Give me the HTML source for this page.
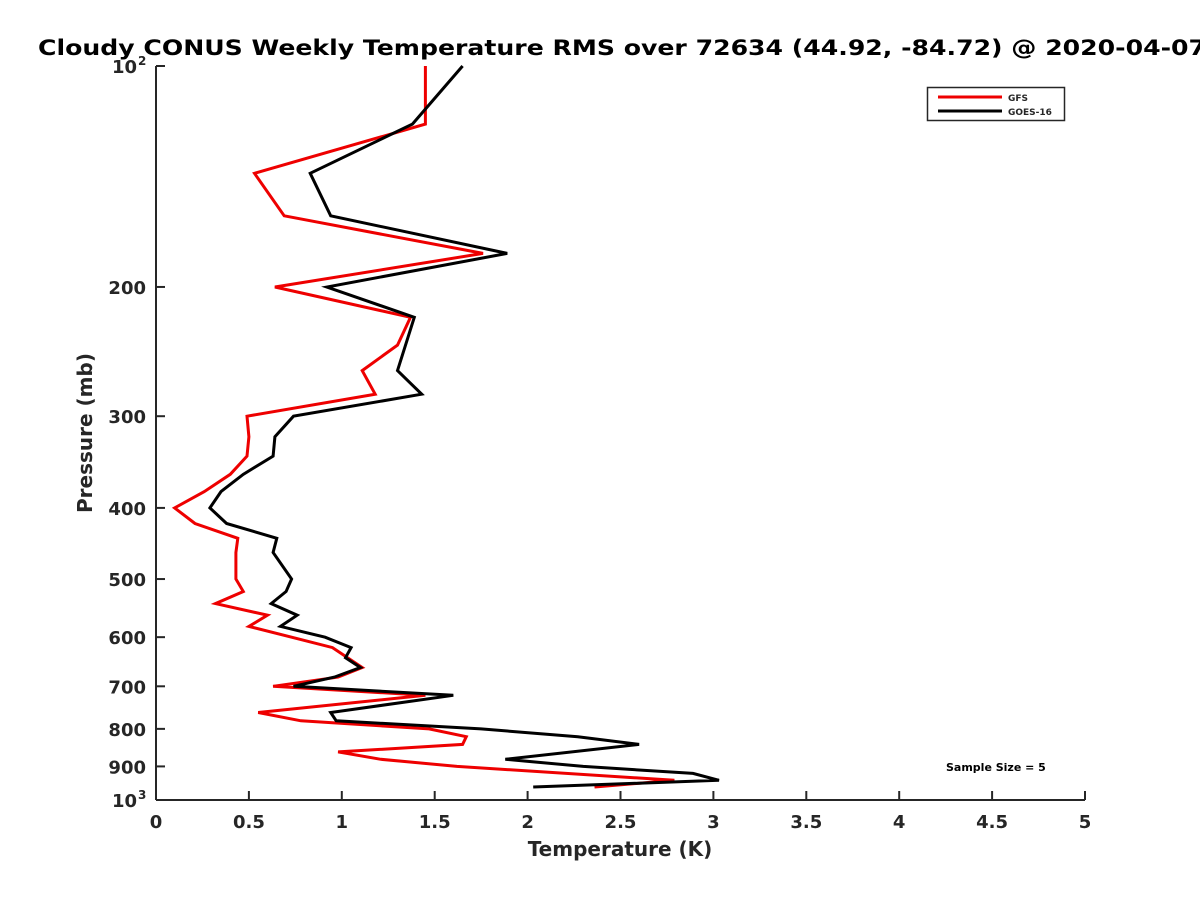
<!DOCTYPE html>
<html><head><meta charset="utf-8"><style>
body{margin:0;background:#fff;}
svg text{font-family:"DejaVu Sans","Liberation Sans",sans-serif;font-weight:bold;fill:#262626;}
</style></head><body>
<svg id="chart" width="1200" height="900" xmlns="http://www.w3.org/2000/svg">
<rect width="1200" height="900" fill="#fff"/>
<text x="38" y="55" font-size="21" textLength="1168" lengthAdjust="spacingAndGlyphs" style="fill:#000">Cloudy CONUS Weekly Temperature RMS over 72634 (44.92, -84.72) @ 2020-04-07</text>
<g id="axes"></g>
<g id="series"></g>
<text x="620" y="856" font-size="20" text-anchor="middle">Temperature (K)</text>
<text transform="translate(92,433) rotate(-90)" font-size="20" text-anchor="middle">Pressure (mb)</text>
<g>
<rect x="927.5" y="87.5" width="137" height="33" fill="#fff" stroke="#262626" stroke-width="1.5"/>
<line x1="938" y1="97" x2="1002" y2="97" stroke="#e00" stroke-width="3"/>
<text x="1008" y="101" font-size="9">GFS</text>
<line x1="938" y1="111" x2="1002" y2="111" stroke="#000" stroke-width="3"/>
<text x="1008" y="115" font-size="9">GOES-16</text>
</g>
<text x="946" y="771" font-size="11" style="fill:#000">Sample Size = 5</text>
</svg>
<script>
const xTicks=[0,0.5,1,1.5,2,2.5,3,3.5,4,4.5,5];
const xTickLabels=["0","0.5","1","1.5","2","2.5","3","3.5","4","4.5","5"];
const yTicks=[100,200,300,400,500,600,700,800,900,1000];
const yTickLabels=["10","200","300","400","500","600","700","800","900","10"];
const gfsPressure=[100,120,140,160,180,200,220,240,260,280,300,320,340,360,380,400,420,440,460,500,520,540,560,580,600,620,660,680,700,720,760,780,800,820,840,860,880,900,940,960];
const gfsTemp=[1.45,1.45,0.53,0.69,1.76,0.64,1.37,1.30,1.11,1.18,0.49,0.50,0.49,0.40,0.26,0.10,0.21,0.44,0.43,0.43,0.47,0.32,0.60,0.50,0.73,0.95,1.11,0.98,0.63,1.45,0.55,0.78,1.47,1.67,1.65,0.98,1.21,1.62,2.79,2.36];
const goesPressure=[100,120,140,160,180,200,220,260,280,300,320,340,360,380,400,420,440,460,500,520,540,560,580,600,620,640,660,680,700,720,760,780,800,820,840,880,900,920,940,960];
const goesTemp=[1.65,1.38,0.83,0.94,1.89,0.92,1.39,1.30,1.43,0.74,0.64,0.63,0.47,0.35,0.29,0.38,0.65,0.63,0.73,0.70,0.62,0.76,0.67,0.91,1.05,1.02,1.10,0.96,0.74,1.60,0.94,0.97,1.75,2.27,2.60,1.88,2.30,2.89,3.03,2.03];
const X0=156,X1=1085,Y0=66,Y1=800;
function xs(v){return X0+(v/5)*(X1-X0);}
function ys(p){return Y0+(Math.log10(p)-2)*(Y1-Y0);}
const NS="http://www.w3.org/2000/svg";
const axes=document.getElementById('axes'),series=document.getElementById('series');
function mk(t,a,parent){const e=document.createElementNS(NS,t);for(const k in a)e.setAttribute(k,a[k]);parent.appendChild(e);return e;}
const yAxis=mk('line',{x1:X0,y1:Y0,x2:X0,y2:Y1,stroke:'#262626','stroke-width':2},axes);


const xAxis=mk('line',{x1:X0,y1:Y1,x2:X1,y2:Y1,stroke:'#262626','stroke-width':2},axes);


xTicks.forEach((v,i)=>{
 const x=xs(v);
 mk('line',{x1:x,y1:Y1,x2:x,y2:Y1-9,stroke:'#262626','stroke-width':2},axes);
 const t=mk('text',{x:x,y:828,'font-size':18,'text-anchor':'middle'},axes);
 t.textContent=xTickLabels[i];
 
 
});
yTicks.forEach((p,i)=>{
 const y=ys(p);
 mk('line',{x1:X0,y1:y,x2:X0+9,y2:y,stroke:'#262626','stroke-width':2},axes);
 const isPow=(p===100||p===1000);
 const t=mk('text',{x:isPow?137:146,y:y+7,'font-size':18,'text-anchor':'end'},axes);
 t.textContent=yTickLabels[i];
 
 
 if(isPow){
  const s=mk('text',{x:138,y:y-1,'font-size':12,'text-anchor':'start'},axes);
  s.textContent=(p===100?'2':'3');
  
  
 }
});
function drawLine(P,T,color,name){
 const d=P.map((p,i)=>(i?'L':'M')+xs(T[i]).toFixed(1)+','+ys(p).toFixed(1)).join(' ');
 const el=mk('path',{d:d,fill:'none',stroke:color,'stroke-width':3,'stroke-linejoin':'miter'},series);
 
 
}
drawLine(gfsPressure,gfsTemp,'#e00','gfs-line');
drawLine(goesPressure,goesTemp,'#000','goes16-line');
</script>
</body></html>
